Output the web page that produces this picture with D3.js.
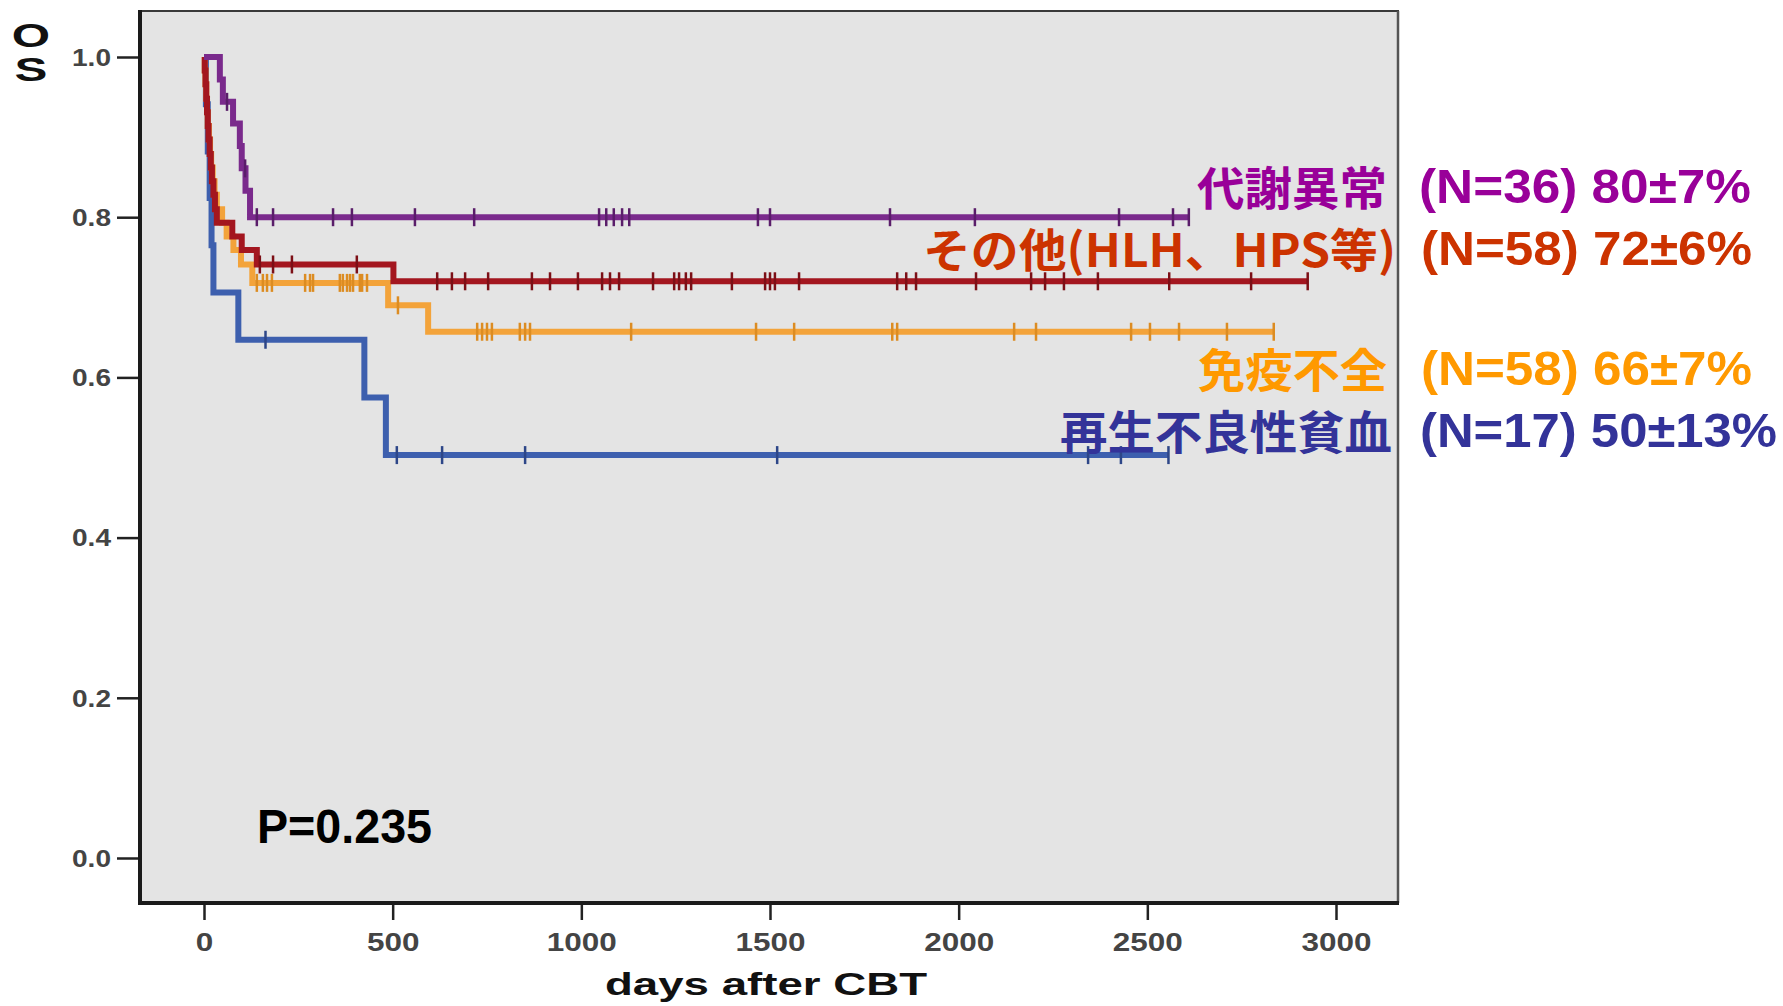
<!DOCTYPE html>
<html><head><meta charset="utf-8">
<script src="https://cdn.jsdelivr.net/npm/d3@7/dist/d3.min.js"></script>
<style>
html,body{margin:0;padding:0;background:#fff;}
svg{display:block;}
</style></head>
<body>
<svg id="chart" width="1783" height="1006"></svg>
<script>
// ---------- data ----------
const groupNames = ["代謝異常", "その他(HLH、HPS等)", "免疫不全", "再生不良性貧血"];
const groupStats = ["(N=36) 80±7%", "(N=58) 72±6%", "(N=58) 66±7%", "(N=17) 50±13%"];

// step times (days) and survival after each step
const purpleTimes = [0, 42, 50, 77, 95, 100, 110, 122];
const purpleSurv  = [1.0, 0.972, 0.944, 0.917, 0.889, 0.861, 0.833, 0.80];
const purpleCensor = [61, 109, 140, 183, 342, 392, 559, 716, 1047, 1066, 1086, 1108, 1127, 1468, 1500, 1818, 2043, 2425, 2568, 2610];
const purpleEnd = 2610;

const redTimes = [0, 2, 4, 6, 8, 10, 12, 15, 18, 21, 25, 29, 34, 75, 100, 140, 502];
const redSurv  = [1.0, 0.983, 0.966, 0.948, 0.931, 0.914, 0.897, 0.879, 0.862, 0.845, 0.828, 0.810, 0.793, 0.776, 0.759, 0.741, 0.72];
const redCensor = [148, 183, 233, 405, 618, 657, 692, 753, 869, 917, 991, 1055, 1076, 1100, 1190, 1246, 1259, 1277, 1291, 1399, 1487, 1500, 1513, 1577, 1837, 1861, 1887, 2046, 2192, 2229, 2279, 2369, 2558, 2775, 2925];
const redEnd = 2925;

const orangeTimes = [0, 2, 4, 6, 8, 10, 13, 16, 19, 23, 28, 34, 48, 60, 78, 98, 128, 488, 594];
const orangeSurv  = [1.0, 0.983, 0.966, 0.948, 0.931, 0.914, 0.897, 0.879, 0.862, 0.845, 0.828, 0.810, 0.793, 0.776, 0.759, 0.741, 0.718, 0.690, 0.657];
const orangeCensor = [140, 156, 167, 180, 268, 281, 289, 360, 368, 379, 387, 395, 413, 419, 432, 514, 724, 737, 750, 763, 837, 851, 864, 1132, 1463, 1564, 1824, 1837, 2147, 2205, 2457, 2507, 2584, 2711, 2835];
const orangeEnd = 2835;

const blueTimes = [0, 5, 10, 15, 20, 25, 91, 425, 482];
const blueSurv  = [1.0, 0.941, 0.882, 0.824, 0.765, 0.706, 0.647, 0.575, 0.503];
const blueCensor = [163, 511, 631, 851, 1519, 2343, 2430, 2556];
const blueEnd = 2556;

const xTicks = [0, 500, 1000, 1500, 2000, 2500, 3000];
const yTicks = [0, 0.2, 0.4, 0.6, 0.8, 1.0];
const pValueText = "P=0.235";
const xTitle = "days after CBT";
const yTitle = "OS";

// ---------- drawing ----------
const svg = d3.select("#chart");
const x = d3.scaleLinear().domain([0, 3000]).range([204, 1336]);
const y = d3.scaleLinear().domain([0, 1]).range([858, 57]);

const frame = {left: 140, top: 11, right: 1398, bottom: 903};

svg.append("rect")
  .attr("x", frame.left).attr("y", frame.top)
  .attr("width", frame.right - frame.left).attr("height", frame.bottom - frame.top)
  .attr("fill", "#e4e4e4");
svg.append("line").attr("x1", frame.left).attr("x2", frame.right + 1).attr("y1", frame.top).attr("y2", frame.top)
  .attr("stroke", "#3a3a3a").attr("stroke-width", 2);
svg.append("line").attr("x1", frame.right).attr("x2", frame.right).attr("y1", frame.top).attr("y2", frame.bottom)
  .attr("stroke", "#555").attr("stroke-width", 2.5);

// axes
const xAxis = d3.axisBottom(x).tickValues(xTicks).tickSize(17).tickSizeOuter(0).tickFormat(d3.format("d"));
const gx = svg.append("g").attr("transform", `translate(0,${frame.bottom})`).call(xAxis);
gx.select(".domain").remove();
gx.selectAll(".tick line").attr("stroke", "#222").attr("stroke-width", 2.5);
gx.selectAll(".tick text")
  .attr("y", 0).attr("dy", null)
  .attr("transform", "translate(0,48)")
  .style("font-family", "Liberation Sans, Arial, sans-serif")
  .style("font-size", "26px").style("font-weight", "bold")
  .attr("fill", "#444")
  .attr("textLength", d => String(d).length * 17.5)
  .attr("lengthAdjust", "spacingAndGlyphs");

const yAxis = d3.axisLeft(y).tickValues(yTicks).tickSize(23).tickSizeOuter(0).tickFormat(d3.format(".1f"));
const gy = svg.append("g").attr("transform", `translate(${frame.left},0)`).call(yAxis);
gy.select(".domain").remove();
gy.selectAll(".tick line").attr("stroke", "#222").attr("stroke-width", 2.5);
gy.selectAll(".tick text")
  .attr("x", -29).attr("dy", "0.36em")
  .style("font-family", "Liberation Sans, Arial, sans-serif")
  .style("font-size", "23px").style("font-weight", "bold")
  .attr("fill", "#444")
  .attr("textLength", 39)
  .attr("lengthAdjust", "spacingAndGlyphs");

svg.append("line").attr("x1", frame.left).attr("x2", frame.left).attr("y1", frame.top - 1).attr("y2", frame.bottom + 2)
  .attr("stroke", "#1a1a1a").attr("stroke-width", 4);
svg.append("line").attr("x1", frame.left - 2).attr("x2", frame.right + 1).attr("y1", frame.bottom).attr("y2", frame.bottom)
  .attr("stroke", "#1a1a1a").attr("stroke-width", 4);

// curves
const series = [
  {times: blueTimes, surv: blueSurv, censor: blueCensor, end: blueEnd, color: "#3d5fae", mark: "#2d4688"},
  {times: orangeTimes, surv: orangeSurv, censor: orangeCensor, end: orangeEnd, color: "#f3a33a", mark: "#dc8c22"},
  {times: redTimes, surv: redSurv, censor: redCensor, end: redEnd, color: "#a3161f", mark: "#7c0f16"},
  {times: purpleTimes, surv: purpleSurv, censor: purpleCensor, end: purpleEnd, color: "#7a2a8c", mark: "#5a1d6a"}
];

const line = d3.line().x(d => x(d[0])).y(d => y(d[1])).curve(d3.curveStepAfter);
const gCurves = svg.append("g");
series.forEach(s => {
  const pts = s.times.map((t, i) => [t, s.surv[i]]);
  pts.push([s.end, s.surv[s.surv.length - 1]]);
  gCurves.append("path").datum(pts)
    .attr("d", line).attr("fill", "none")
    .attr("stroke", s.color).attr("stroke-width", 6)
    .attr("stroke-linejoin", "miter");
  const survAt = t => s.surv[Math.max(0, d3.bisectRight(s.times, t) - 1)];
  gCurves.selectAll(null).data(s.censor).enter().append("line")
    .attr("x1", d => x(d)).attr("x2", d => x(d))
    .attr("y1", d => y(survAt(d)) - 9).attr("y2", d => y(survAt(d)) + 9)
    .attr("stroke", s.mark).attr("stroke-width", 2.5);
});

// p value
svg.append("text").attr("x", 257).attr("y", 843)
  .style("font-family", "Liberation Sans, Arial, sans-serif")
  .style("font-size", "48px").style("font-weight", "bold")
  .attr("fill", "#000").attr("textLength", 175).attr("lengthAdjust", "spacingAndGlyphs")
  .text(pValueText);

// axis titles
svg.append("text").attr("x", 605).attr("y", 995)
  .style("font-family", "Liberation Sans, Arial, sans-serif")
  .style("font-size", "32px").style("font-weight", "bold")
  .attr("fill", "#111").attr("textLength", 322).attr("lengthAdjust", "spacingAndGlyphs")
  .text(xTitle);

// stacked "O" / "S" label as one text element
const yTitleSx = 1.45;
const yTitleText = svg.append("text")
  .attr("transform", `scale(${yTitleSx},1)`)
  .attr("text-anchor", "middle")
  .style("font-family", "Liberation Sans, Arial, sans-serif")
  .style("font-size", "34px").style("font-weight", "bold")
  .attr("fill", "#111");
const yTitleBaselines = [47, 81];
yTitle.split("").forEach((ch, i) => {
  yTitleText.append("tspan").attr("x", 31 / yTitleSx).attr("y", yTitleBaselines[i]).text(ch);
});

// legend text
const legendColors = ["#990099", "#cc3300", "#ff9900", "#333399"];
const legendBase = [203, 265, 385, 447];
const nameRight = [1387, 1396, 1387, 1392];
const nameWidth = [190, 473, 189, 332];
const statLeft = [1419, 1421, 1421, 1420];
const statWidth = [332, 331, 331, 357];

groupNames.forEach((n, i) => {
  svg.append("text")
    .attr("x", nameRight[i] - nameWidth[i]).attr("y", legendBase[i] + 2)
    .style("font-family", "'Noto Sans CJK JP', 'Noto Sans', sans-serif")
    .style("font-size", "46px").style("font-weight", "bold")
    .attr("fill", legendColors[i])
    .attr("textLength", nameWidth[i]).attr("lengthAdjust", "spacingAndGlyphs")
    .text(n);
  svg.append("text")
    .attr("x", statLeft[i]).attr("y", legendBase[i])
    .style("font-family", "Liberation Sans, Arial, sans-serif")
    .style("font-size", "48px").style("font-weight", "bold")
    .attr("fill", legendColors[i])
    .attr("textLength", statWidth[i]).attr("lengthAdjust", "spacingAndGlyphs")
    .text(groupStats[i]);
});
</script>
</body></html>
